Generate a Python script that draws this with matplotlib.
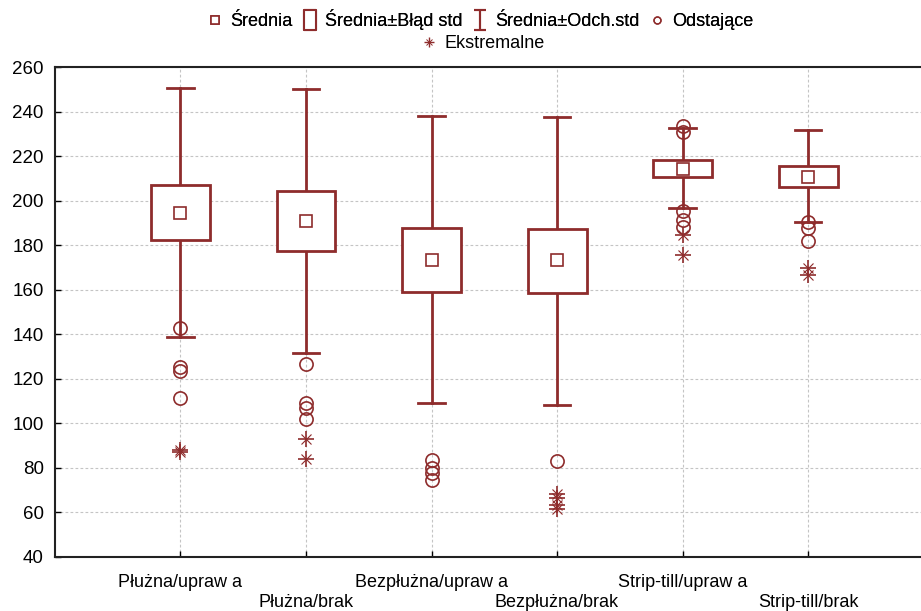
import matplotlib
matplotlib.use("Agg")
import matplotlib.pyplot as plt
from matplotlib.path import Path
from matplotlib.lines import Line2D

plt.rcParams['font.family'] = ['Liberation Sans', 'DejaVu Sans']

categories = ["Płużna/upraw a", "Płużna/brak", "Bezpłużna/upraw a",
              "Bezpłużna/brak", "Strip-till/upraw a", "Strip-till/brak"]
means = [194.4, 191.0, 173.3, 173.2, 214.2, 210.6]
se_low = [182.3, 177.4, 159.0, 158.5, 210.6, 206.1]
se_high = [207.0, 204.3, 187.7, 187.3, 218.2, 215.5]
sd_low = [138.6, 131.6, 109.1, 108.2, 196.7, 190.4]
sd_high = [250.6, 250.1, 238.0, 237.5, 232.6, 231.7]
outliers = [
    [142.8, 125.3, 123.5, 111.4],
    [126.6, 109.1, 106.9, 101.9],
    [83.5, 80.0, 77.5, 74.5],
    [83.1],
    [233.4, 231.0, 195.3, 191.3, 188.2],
    [190.2, 187.7, 181.9],
]
extremes = [
    [88.2, 87.0],
    [93.0, 84.0],
    [],
    [68.5, 66.5, 63.2, 61.5],
    [184.8, 175.4],
    [169.6, 166.6],
]
yticks = [40, 60, 80, 100, 120, 140, 160, 180, 200, 220, 240, 260]

C = '#8E2C2C'
FS = 13
fig = plt.figure(figsize=(9.21, 6.11), dpi=100)
ax = fig.add_axes([0.0597, 0.0884, 0.9403, 0.8019])

box_w = 0.47
cap_w = 0.21
for i in range(len(categories)):
    x = i + 1
    ax.plot([x, x], [se_high[i], sd_high[i]], color=C, lw=2, zorder=3)
    ax.plot([x, x], [sd_low[i], se_low[i]], color=C, lw=2, zorder=3)
    ax.plot([x - cap_w / 2, x + cap_w / 2], [sd_high[i]] * 2, color=C, lw=2, zorder=3)
    ax.plot([x - cap_w / 2, x + cap_w / 2], [sd_low[i]] * 2, color=C, lw=2, zorder=3)
    ax.add_patch(plt.Rectangle((x - box_w / 2, se_low[i]), box_w, se_high[i] - se_low[i],
                               fill=True, facecolor='white', edgecolor=C, lw=2, zorder=4))
    ax.plot([x], [means[i]], marker='s', ms=8, mfc='white', mec=C, mew=1.2, ls='none', zorder=5)
    if outliers[i]:
        ax.plot([x] * len(outliers[i]), outliers[i], marker='o', ms=9.5, mfc='none', mec=C,
                mew=1.2, ls='none', zorder=5)
    if extremes[i]:
        ax.plot([x] * len(extremes[i]), extremes[i], marker='+', ms=11, mec=C, mew=1.2,
                ls='none', zorder=5)
        ax.plot([x] * len(extremes[i]), extremes[i], marker='x', ms=7, mec=C, mew=0.8,
                ls='none', zorder=5)

ax.set_xlim(0, 6.9)
ax.set_ylim(40, 260)
ax.set_yticks(yticks)
ax.set_xticks(range(1, len(categories) + 1))
ax.set_xticklabels([c if i % 2 == 0 else '\n' + c for i, c in enumerate(categories)],
                   fontsize=FS, linespacing=1.25)
ax.tick_params(axis='both', direction='in', length=4, width=1, colors='black')
ax.tick_params(axis='x', pad=12, labelsize=FS)
ax.tick_params(axis='y', pad=8, labelsize=13.5)
ax.grid(True, color='#C4C4C4', ls=(0, (2.5, 2)), lw=0.8, zorder=0)
ax.set_axisbelow(True)
ax.spines['right'].set_visible(False)
for s in ['left', 'top', 'bottom']:
    ax.spines[s].set_linewidth(1.5)
    ax.spines[s].set_color('#222222')

rect_tall = Path([(-0.6, -1), (0.6, -1), (0.6, 1), (-0.6, 1), (-0.6, -1)],
                 [Path.MOVETO, Path.LINETO, Path.LINETO, Path.LINETO, Path.CLOSEPOLY])
ibeam = Path([(-0.6, 1), (0.6, 1), (0, 1), (0, -1), (-0.6, -1), (0.6, -1)],
             [Path.MOVETO, Path.LINETO, Path.MOVETO, Path.LINETO, Path.MOVETO, Path.LINETO])
h1 = Line2D([], [], marker='s', ms=6, mfc='white', mec=C, mew=1.2, ls='none')
h2 = Line2D([], [], marker=rect_tall, ms=15, mfc='white', mec=C, mew=1.5, ls='none')
h3 = Line2D([], [], marker=ibeam, ms=15, mfc='none', mec=C, mew=1.5, ls='none')
h4 = Line2D([], [], marker='o', ms=5, mfc='none', mec=C, mew=1.0, ls='none')
h5a = Line2D([], [], marker='+', ms=7, mec=C, mew=1.0, ls='none')
h5b = Line2D([], [], marker='x', ms=5, mec=C, mew=0.7, ls='none')

leg1 = fig.legend([h1, h2, h3, h4], ['Średnia', 'Średnia±Błąd std', 'Średnia±Odch.std', 'Odstające'],
                  loc='center', bbox_to_anchor=(0.522, 0.968), ncol=4, frameon=False,
                  fontsize=FS, handlelength=0.8, handletextpad=0.45, columnspacing=0.55,
                  borderaxespad=0)
fig.add_artist(leg1)
fig.legend([(h5a, h5b)], ['Ekstremalne'], loc='center', bbox_to_anchor=(0.525, 0.929),
           frameon=False, fontsize=FS, handlelength=0.8, handletextpad=0.45, borderaxespad=0)

fig.savefig('out.png', dpi=100)
